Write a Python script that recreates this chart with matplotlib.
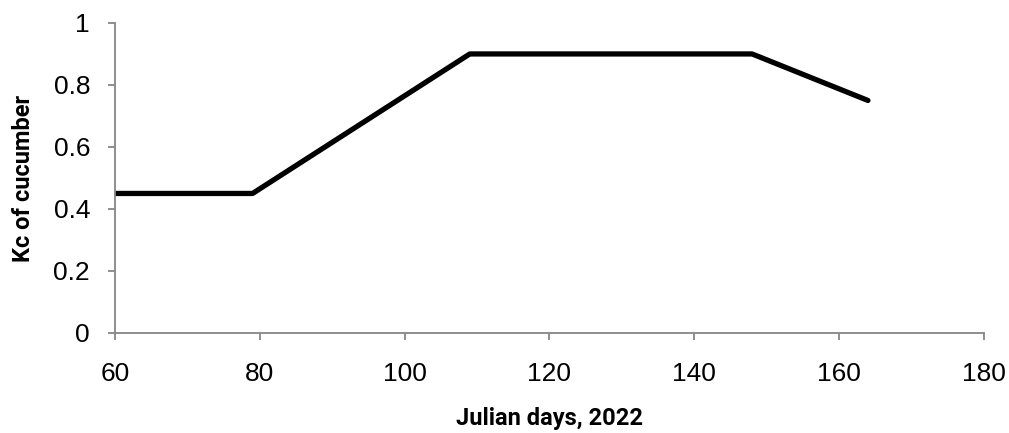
import matplotlib.pyplot as plt
from matplotlib import font_manager

# Kc curve of cucumber over the season
julian_days = [60, 79, 109, 148, 164]
kc_values = [0.45, 0.45, 0.90, 0.90, 0.75]

x_ticks = [60, 80, 100, 120, 140, 160, 180]
y_ticks = [0, 0.2, 0.4, 0.6, 0.8, 1]
y_tick_labels = ['0', '0.2', '0.4', '0.6', '0.8', '1']

names = {f.name for f in font_manager.fontManager.ttflist}
label_font = ['Liberation Sans Narrow', 'DejaVu Sans'] if 'Liberation Sans Narrow' in names \
    else ['Roboto', 'DejaVu Sans']

plt.rcParams['font.family'] = ['Liberation Sans', 'DejaVu Sans']

fig = plt.figure(figsize=(10.09, 4.33), dpi=100)
ax = fig.add_axes([0.114, 0.231, 0.861, 0.716])

ax.plot(julian_days, kc_values, color='black', linewidth=3.8, solid_capstyle='round')

ax.set_xlim(60, 180)
ax.set_ylim(0, 1)
ax.set_xticks(x_ticks)
ax.set_yticks(y_ticks)
ax.set_yticklabels(y_tick_labels)

for side in ['top', 'right']:
    ax.spines[side].set_visible(False)
for side in ['left', 'bottom']:
    ax.spines[side].set_color('#868686')
    ax.spines[side].set_linewidth(1.3)

ax.tick_params(axis='both', direction='out', length=5, width=1.3, color='#868686',
               labelsize=19, labelcolor='black')
ax.tick_params(axis='x', pad=16)
ax.tick_params(axis='y', pad=13)

ax.set_xlabel('Julian days, 2022', fontsize=17, fontweight='bold', family=label_font, labelpad=15)
ax.set_ylabel('Kc of cucumber', fontsize=17, fontweight='bold', family=label_font, labelpad=13)

fig.savefig('out.png', dpi=100)
